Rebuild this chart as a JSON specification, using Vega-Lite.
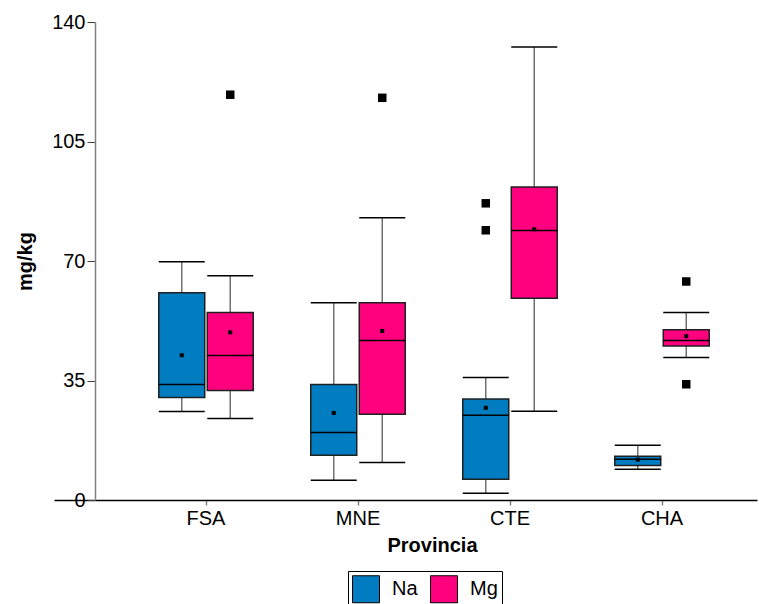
{
  "$schema": "https://vega.github.io/schema/vega-lite/v6.json",
  "width": 703,
  "height": 478,
  "autosize": {"type": "none"},
  "padding": {"left": 54, "top": 22, "right": 2, "bottom": 104},
  "background": "white",
  "config": {
    "view": {"stroke": null},
    "font": "Liberation Sans",
    "axis": {"grid": false}
  },
  "datasets": {
    "boxes": [
      {"prov": "FSA", "el": "Na", "lower": 25.9, "q1": 30.0, "median": 33.8, "q3": 60.7, "upper": 69.8, "mean": 42.4},
      {"prov": "FSA", "el": "Mg", "lower": 23.9, "q1": 32.1, "median": 42.3, "q3": 54.9, "upper": 65.7, "mean": 49.1},
      {"prov": "MNE", "el": "Na", "lower": 5.8, "q1": 13.1, "median": 19.8, "q3": 33.8, "upper": 57.8, "mean": 25.5},
      {"prov": "MNE", "el": "Mg", "lower": 11.0, "q1": 25.1, "median": 46.7, "q3": 57.8, "upper": 82.7, "mean": 49.5},
      {"prov": "CTE", "el": "Na", "lower": 2.0, "q1": 6.1, "median": 24.8, "q3": 29.6, "upper": 35.9, "mean": 27.0},
      {"prov": "CTE", "el": "Mg", "lower": 26.0, "q1": 59.1, "median": 78.9, "q3": 91.7, "upper": 132.7, "mean": 79.3},
      {"prov": "CHA", "el": "Na", "lower": 9.0, "q1": 10.1, "median": 11.9, "q3": 12.8, "upper": 16.0, "mean": 11.8},
      {"prov": "CHA", "el": "Mg", "lower": 41.7, "q1": 45.1, "median": 46.7, "q3": 49.9, "upper": 54.9, "mean": 48.0}
    ],
    "outliers": [
      {"prov": "FSA", "el": "Mg", "value": 118.7},
      {"prov": "MNE", "el": "Mg", "value": 117.8},
      {"prov": "CTE", "el": "Na", "value": 86.9},
      {"prov": "CTE", "el": "Na", "value": 79.0},
      {"prov": "CHA", "el": "Mg", "value": 64.0},
      {"prov": "CHA", "el": "Mg", "value": 33.9}
    ]
  },
  "encoding": {
    "x": {
      "field": "prov",
      "type": "nominal",
      "sort": ["FSA", "MNE", "CTE", "CHA"],
      "scale": {"domain": ["FSA", "MNE", "CTE", "CHA"], "paddingInner": 0.362, "paddingOuter": 0.4935, "align": 0.69},
      "axis": {
        "title": "Provincia",
        "titleFontSize": 20,
        "titleFontWeight": "bold",
        "titleColor": "black",
        "titlePadding": 7,
        "titleX": 378,
        "titleAnchor": "middle",
        "labelFontSize": 20,
        "labelColor": "black",
        "labelAngle": 0,
        "labelPadding": 3,
        "domainColor": "black",
        "domainWidth": 1.5,
        "tickColor": "#808080",
        "tickSize": 5,
        "tickWidth": 1.5
      }
    },
    "xOffset": {
      "field": "el",
      "type": "nominal",
      "sort": ["Na", "Mg"],
      "scale": {"domain": ["Na", "Mg"], "paddingInner": 0.052, "paddingOuter": 0.026}
    }
  },
  "layer": [
    {
      "data": {"name": "boxes"},
      "mark": {"type": "rule", "color": "#707070", "strokeWidth": 1.5},
      "encoding": {
        "y": {
          "field": "lower",
          "type": "quantitative",
          "scale": {"domain": [0, 140], "nice": false, "zero": true},
          "axis": {
            "values": [0, 35, 70, 105, 140],
            "offset": -41,
            "title": "mg/kg",
            "titleFontSize": 20,
            "titleFontWeight": "bold",
            "titleColor": "black",
            "titlePadding": 16,
            "labelFontSize": 20,
            "labelColor": "black",
            "labelPadding": 2,
            "domainColor": "#808080",
            "domainWidth": 1.5,
            "tickColor": "#404040",
            "tickSize": 8,
            "tickWidth": 1
          }
        },
        "y2": {"field": "upper"}
      }
    },
    {
      "data": {"name": "boxes"},
      "mark": {"type": "tick", "color": "black", "size": 46, "thickness": 1.5, "opacity": 1},
      "encoding": {"y": {"field": "lower", "type": "quantitative"}}
    },
    {
      "data": {"name": "boxes"},
      "mark": {"type": "tick", "color": "black", "size": 46, "thickness": 1.5, "opacity": 1},
      "encoding": {"y": {"field": "upper", "type": "quantitative"}}
    },
    {
      "data": {"name": "boxes"},
      "mark": {"type": "bar", "stroke": "#202020", "strokeWidth": 1.5, "opacity": 1},
      "encoding": {
        "y": {"field": "q1", "type": "quantitative"},
        "y2": {"field": "q3"},
        "color": {
          "field": "el",
          "type": "nominal",
          "scale": {"domain": ["Na", "Mg"], "range": ["#007CC0", "#FF007F"]},
          "legend": {
            "orient": "none",
            "legendX": 294,
            "legendY": 549,
            "direction": "horizontal",
            "title": null,
            "strokeColor": "black",
            "padding": 4,
            "symbolType": "square",
            "symbolSize": 729,
            "symbolStrokeColor": "black",
            "symbolStrokeWidth": 1,
            "symbolOpacity": 1,
            "labelFontSize": 20,
            "labelColor": "black",
            "labelOffset": 12,
            "columnPadding": 10
          }
        }
      }
    },
    {
      "data": {"name": "boxes"},
      "mark": {"type": "tick", "color": "black", "size": 46, "thickness": 1.5, "opacity": 1},
      "encoding": {"y": {"field": "median", "type": "quantitative"}}
    },
    {
      "data": {"name": "boxes"},
      "mark": {"type": "square", "color": "black", "size": 16, "opacity": 1, "filled": true},
      "encoding": {"y": {"field": "mean", "type": "quantitative"}}
    },
    {
      "data": {"name": "outliers"},
      "mark": {"type": "square", "color": "black", "size": 72, "opacity": 1, "filled": true},
      "encoding": {"y": {"field": "value", "type": "quantitative"}}
    }
  ]
}
